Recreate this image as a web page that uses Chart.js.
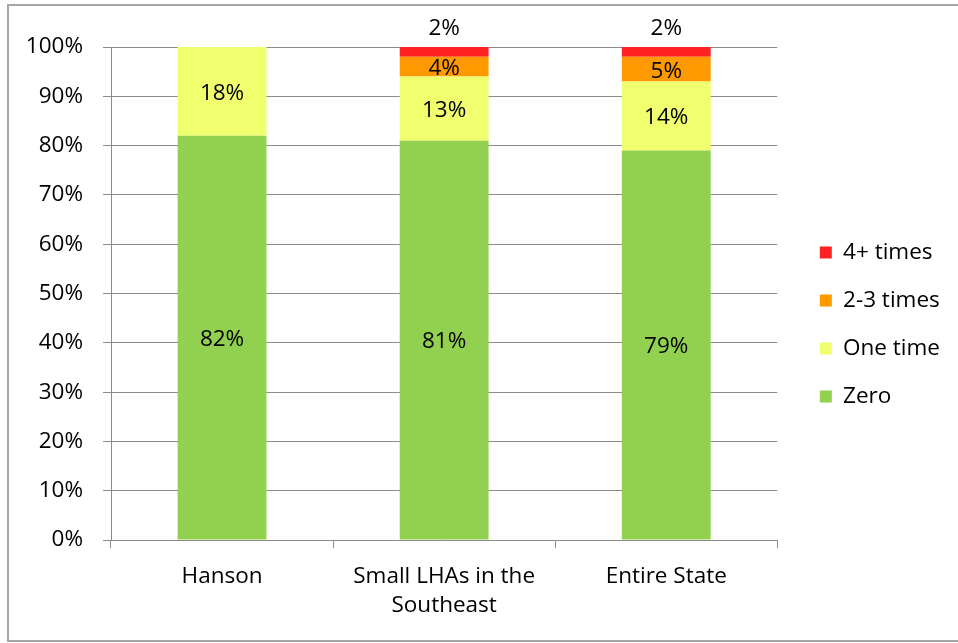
<!DOCTYPE html>
<html>
<head>
<meta charset="utf-8">
<script src="https://cdn.jsdelivr.net/npm/chart.js@4/dist/chart.umd.min.js"></script>
<style>
  html, body { margin: 0; padding: 0; background: #fff; overflow: hidden; }
  #wrap { width: 958px; height: 643px; position: relative; }
</style>
</head>
<body>
<div id="wrap"><canvas id="chart"></canvas></div>
<script>
// data
var categories = ['Hanson', ['Small LHAs in the', 'Southeast'], 'Entire State'];
var zero = [82, 81, 79];
var oneTime = [18, 13, 14];
var twoThree = [0, 4, 5];
var fourPlus = [0, 2, 2];
var yTicks = [0, 10, 20, 30, 40, 50, 60, 70, 80, 90, 100];

var FONT = 'Open Sans';
var SIZE = 22.5;
var GRID = '#8c8c8c';

// gray frame round the whole chart
var frame = {
  id: 'frame',
  beforeDraw: function(chart) {
    var ctx = chart.ctx;
    ctx.save();
    ctx.strokeStyle = '#a6a6a6';
    ctx.lineWidth = 2;
    ctx.strokeRect(8, 5, 1000, 636);
    ctx.restore();
  }
};

// percent labels in the middle of each segment, 4+ goes above the bar
var barLabels = {
  id: 'barLabels',
  afterDatasetsDraw: function(chart) {
    var ctx = chart.ctx;
    ctx.save();
    ctx.font = SIZE + 'px ' + FONT;
    ctx.fillStyle = '#000';
    ctx.textAlign = 'center';
    ctx.textBaseline = 'middle';
    chart.data.datasets.forEach(function(ds, i) {
      chart.getDatasetMeta(i).data.forEach(function(bar, j) {
        var v = ds.data[j];
        if (!v) return;
        var y = ds.label === '4+ times' ? bar.y - 18 : (bar.y + bar.base) / 2 + 2;
        ctx.fillText(v + '%', bar.x, y);
      });
    });
    ctx.restore();
  }
};

Chart.defaults.font.family = FONT;
Chart.defaults.font.size = SIZE;
Chart.defaults.color = '#000';

new Chart(document.getElementById('chart'), {
  type: 'bar',
  data: {
    labels: categories,
    datasets: [
      { label: 'Zero', data: zero, backgroundColor: '#92d050' },
      { label: 'One time', data: oneTime, backgroundColor: '#efff6e' },
      { label: '2-3 times', data: twoThree, backgroundColor: '#ff9900' },
      { label: '4+ times', data: fourPlus, backgroundColor: '#ff2222' }
    ]
  },
  options: {
    responsive: true,
    maintainAspectRatio: false,
    animation: false,
    categoryPercentage: 1,
    barPercentage: 0.4,
    layout: { padding: { top: 6, bottom: 0, left: 0, right: 8 } },
    scales: {
      x: {
        stacked: true,
        grid: { offset: true, drawOnChartArea: false, color: GRID, tickLength: 8 },
        border: { color: GRID },
        ticks: { padding: 14, font: { size: SIZE, lineHeight: 1.29 } },
        afterFit: function(s) { s.height = 643 - 540; }
      },
      top: {
        type: 'linear',
        axis: 'x',
        position: 'top',
        display: true,
        grid: { display: false },
        border: { display: false },
        ticks: { display: false },
        afterFit: function(s) { s.height = 41; }
      },
      y: {
        stacked: true,
        min: 0,
        max: 100,
        afterBuildTicks: function(s) { s.ticks = yTicks.map(function(v) { return { value: v }; }); },
        grid: { color: GRID, tickLength: 8 },
        border: { color: GRID },
        ticks: { padding: 20, callback: function(v) { return v + '%'; } },
        afterFit: function(s) { s.width = 111; }
      },
      gap: {
        position: 'right',
        display: true,
        grid: { display: false },
        border: { display: false },
        ticks: { display: false },
        afterFit: function(s) { s.width = 17; }
      }
    },
    plugins: {
      legend: {
        position: 'right',
        reverse: true,
        labels: { boxWidth: 12, boxHeight: 12, padding: 25.5, font: { size: SIZE } }
      },
      tooltip: { enabled: false }
    }
  },
  plugins: [frame, barLabels]
});
</script>
</body>
</html>
